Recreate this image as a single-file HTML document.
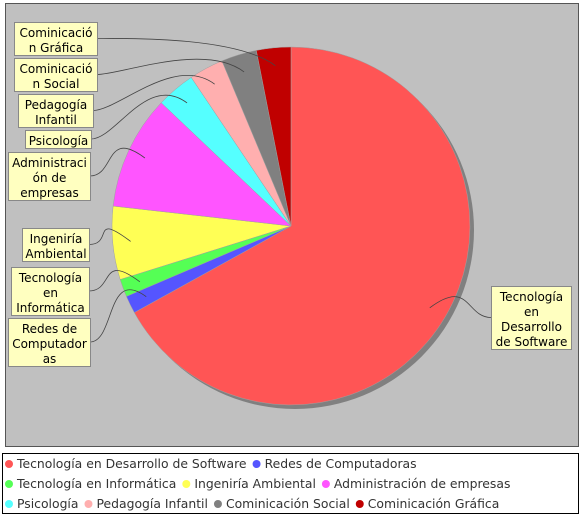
<!DOCTYPE html>
<html><head><meta charset="utf-8"><style>
body{margin:0;background:#fff;}
svg{display:block;font-family:"DejaVu Sans","Liberation Sans",sans-serif;}
</style></head><body>
<svg width="582" height="516">
<rect x="0" y="0" width="582" height="516" fill="#fff"/>
<rect x="5.5" y="3.5" width="573" height="443" fill="#c0c0c0" stroke="#555"/>
<g id="shadow"></g><g id="slices"></g><g id="labels"></g>
<rect x="2.5" y="453.5" width="576" height="60" fill="#fff" stroke="#000"/>
<g id="legend"></g>
</svg>
<script>
const categories=["Tecnología en Desarrollo de Software","Redes de Computadoras","Tecnología en Informática","Ingeniría Ambiental","Administración de empresas","Psicología","Pedagogía Infantil","Cominicación Social","Cominicación Gráfica"];
const values=[66.9,1.6,1.6,6.6,10.3,3.5,3.1,3.2,3.1];
const colors=["#ff5555","#5555ff","#55ff55","#ffff55","#ff55ff","#55ffff","#ffafaf","#808080","#c00000"];
const labelLines=[["Tecnología","en","Desarrollo","de Software"],["Redes de","Computador","as"],["Tecnología","en","Informática"],["Ingeniría","Ambiental"],["Administraci","ón de","empresas"],["Psicología"],["Pedagogía","Infantil"],["Cominicació","n Social"],["Cominicació","n Gráfica"]];
const boxes=[[491,286,80],[8,318,82],[11,267,78],[22,228,67],[8,152,82],[25,130,66],[18,94,75],[14,58,83],[14,22,83]];
const NS="http://www.w3.org/2000/svg";
const cx=291,cy=226,r=179;
function mk(t,a,p){const e=document.createElementNS(NS,t);for(const k in a)e.setAttribute(k,a[k]);p.appendChild(e);return e;}
const total=values.reduce((a,b)=>a+b,0);
function pt(ang,rr){return [cx+rr*Math.sin(ang),cy-rr*Math.cos(ang)];}
const sh=mk('circle',{cx:cx+4,cy:cy+4,r:r,fill:'#808080'},document.getElementById('shadow'));


let a0=0;
const sg=document.getElementById('slices'),lg=document.getElementById('labels');
values.forEach((v,i)=>{
  const a1=a0+v/total*2*Math.PI;
  const p0=pt(a0,r),p1=pt(a1,r);
  const large=(a1-a0)>Math.PI?1:0;
  const s=mk('path',{d:`M${cx},${cy}L${p0[0]},${p0[1]}A${r},${r} 0 ${large} 1 ${p1[0]},${p1[1]}Z`,fill:colors[i],stroke:'#a0a0a0','stroke-width':0.5},sg);
  
  
  const am=(a0+a1)/2, an=pt(am,r*0.9);
  const b=boxes[i],lines=labelLines[i],h=lines.length*15+3;
  const right=am<Math.PI;
  const bx=right?b[0]:b[0]+b[2], by=b[1]+h/2;
  const ln=mk('path',{d:`M${bx},${by}C${bx+(right?-25:25)},${by} ${an[0]+(right?40:-40)},${an[1]-30} ${an[0]},${an[1]}`,fill:'none',stroke:'#444','stroke-width':0.8},lg);
  
  
  const rc=mk('rect',{x:b[0]+0.5,y:b[1]+0.5,width:b[2],height:h,fill:'#ffffc0',stroke:'#888'},lg);
  
  
  lines.forEach((t,j)=>{
    const tx=mk('text',{x:b[0]+b[2]/2+0.5,y:b[1]+15+j*15,'text-anchor':'middle','font-size':12,fill:'#000'},lg);
    tx.textContent=t;
    
    
  });
  a0=a1;
});
const lgd=document.getElementById('legend');
const rows=[[0,1],[2,3,4],[5,6,7,8]];
rows.forEach((row,ri)=>{
  let x=5;const y=468+ri*20;
  row.forEach(i=>{
    const c=mk('circle',{cx:x+4,cy:y-4,r:4,fill:colors[i]},lgd);
    
    
    const t=mk('text',{x:x+12,y:y,'font-size':12.4,fill:'#333'},lgd);
    t.textContent=categories[i];
    
    
    x+=12+t.getComputedTextLength()+6;
  });
});
</script>
</body></html>
